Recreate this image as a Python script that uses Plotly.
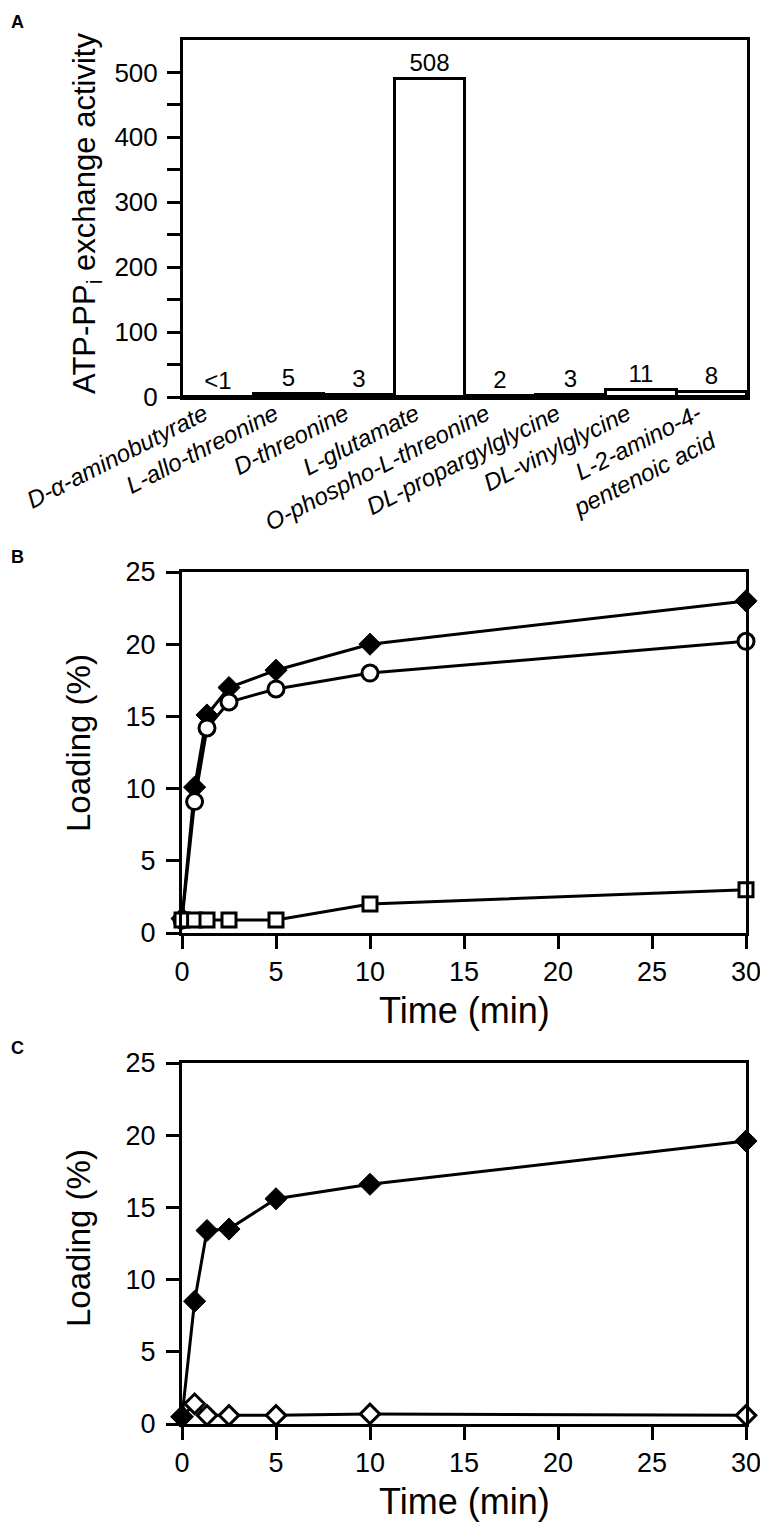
import plotly.graph_objects as go

# ---------------- data ----------------
categories = [
    "<i>D-α-aminobutyrate</i>",
    "<i>L-allo-threonine</i>",
    "<i>D-threonine</i>",
    "<i>L-glutamate</i>",
    "<i>O-phospho-L-threonine</i>",
    "<i>DL-propargylglycine</i>",
    "<i>DL-vinylglycine</i>",
    "<i>L-2-amino-4-<br>pentenoic acid</i>",
]
activity = [0.6, 5, 3, 490, 2, 3, 11, 8]
activity_labels = ["<1", "5", "3", "508", "2", "3", "11", "8"]

time_min = [0, 0.67, 1.33, 2.5, 5, 10, 30]
b_filled_diamond = [1.0, 10.1, 15.1, 17.0, 18.2, 20.0, 23.0]
b_open_circle = [0.9, 9.1, 14.2, 16.0, 16.9, 18.0, 20.2]
b_open_square = [0.9, 0.9, 0.9, 0.9, 0.9, 2.0, 3.0]
c_filled_diamond = [0.5, 8.5, 13.4, 13.5, 15.6, 16.6, 19.6]
c_open_diamond = [0.5, 1.4, 0.6, 0.6, 0.6, 0.7, 0.6]

# The page body has an 8px margin, so the figure is offset by 8px.
OFF = 8
W, H = 768 - OFF, 1527 - OFF
FONT = "Liberation Sans, Arial, sans-serif"


def px_x(x):
    return (x - OFF) / W


def px_y(y):
    return 1 - (y - OFF) / H


fig = go.Figure()

# Panel A bars
fig.add_trace(go.Bar(
    x=categories, y=activity, text=activity_labels,
    textposition="outside", cliponaxis=False,
    textfont=dict(size=24, color="black", family=FONT),
    marker=dict(color="white", line=dict(color="black", width=3)),
    xaxis="x", yaxis="y", showlegend=False,
))

line_style = dict(color="black", width=3)

# Panel B
fig.add_trace(go.Scatter(
    x=time_min, y=b_filled_diamond, mode="lines+markers", cliponaxis=False,
    line=line_style,
    marker=dict(symbol="diamond", size=17, color="black", line=dict(color="black", width=1)),
    xaxis="x2", yaxis="y2", showlegend=False,
))
fig.add_trace(go.Scatter(
    x=time_min, y=b_open_circle, mode="lines+markers", cliponaxis=False,
    line=line_style,
    marker=dict(symbol="circle", size=16, color="white", line=dict(color="black", width=3)),
    xaxis="x2", yaxis="y2", showlegend=False,
))
fig.add_trace(go.Scatter(
    x=time_min, y=b_open_square, mode="lines+markers", cliponaxis=False,
    line=line_style,
    marker=dict(symbol="square", size=14, color="white", line=dict(color="black", width=3)),
    xaxis="x2", yaxis="y2", showlegend=False,
))

# Panel C
fig.add_trace(go.Scatter(
    x=time_min, y=c_open_diamond, mode="lines+markers", cliponaxis=False,
    line=line_style,
    marker=dict(symbol="diamond", size=15, color="white", line=dict(color="black", width=3)),
    xaxis="x3", yaxis="y3", showlegend=False,
))
fig.add_trace(go.Scatter(
    x=time_min, y=c_filled_diamond, mode="lines+markers", cliponaxis=False,
    line=line_style,
    marker=dict(symbol="diamond", size=17, color="black", line=dict(color="black", width=1)),
    xaxis="x3", yaxis="y3", showlegend=False,
))

axis_common = dict(
    showline=True, linecolor="black", linewidth=3, mirror=True,
    showgrid=False, zeroline=False, automargin=False,
    tickfont=dict(size=27, color="black", family=FONT),
)
tick_common = dict(ticks="outside", ticklen=13, tickwidth=3, tickcolor="black")

fig.update_layout(
    template="none",
    width=W, height=H,
    margin=dict(l=0, r=0, t=0, b=0),
    paper_bgcolor="white", plot_bgcolor="white",
    font=dict(family=FONT, color="black"),
    bargap=0,
    xaxis=dict(
        domain=[px_x(183), px_x(747)], anchor="y",
        type="category", ticks="", tickangle=-27,
        ticklabelstandoff=-9, ticklabelshift=-14,
        **{**axis_common, "tickfont": dict(size=24, color="black", family=FONT)},
    ),
    yaxis=dict(
        domain=[px_y(397), px_y(40)], anchor="x",
        range=[0, 550], tickvals=[0, 100, 200, 300, 400, 500],
        minor=dict(tickvals=[50, 150, 250, 350, 450], ticks="outside",
                   ticklen=13, tickwidth=3, tickcolor="black"),
        ticklabelstandoff=4,
        **tick_common,
        **{**axis_common, "tickfont": dict(size=26, color="black", family=FONT)},
    ),
    xaxis2=dict(
        domain=[px_x(182), px_x(746)], anchor="y2",
        range=[0, 30], tickvals=[0, 5, 10, 15, 20, 25, 30],
        **tick_common, **axis_common,
    ),
    yaxis2=dict(
        domain=[px_y(933), px_y(572)], anchor="x2",
        range=[0, 25], tickvals=[0, 5, 10, 15, 20, 25],
        ticklabelstandoff=5,
        **tick_common, **axis_common,
    ),
    xaxis3=dict(
        domain=[px_x(182), px_x(746)], anchor="y3",
        range=[0, 30], tickvals=[0, 5, 10, 15, 20, 25, 30],
        **tick_common, **axis_common,
    ),
    yaxis3=dict(
        domain=[px_y(1424), px_y(1063)], anchor="x3",
        range=[0, 25], tickvals=[0, 5, 10, 15, 20, 25],
        ticklabelstandoff=5,
        **tick_common, **axis_common,
    ),
)

annotations = [
    dict(text="<b>A</b>", x=px_x(9), y=px_y(22), xanchor="left", font=dict(size=18)),
    dict(text="<b>B</b>", x=px_x(9), y=px_y(557), xanchor="left", font=dict(size=18)),
    dict(text="<b>C</b>", x=px_x(9), y=px_y(1048), xanchor="left", font=dict(size=18)),
    dict(text="ATP-PP<sub>i</sub> exchange activity", x=px_x(87), y=px_y(214),
         textangle=-90, font=dict(size=31)),
    dict(text="Loading (%)", x=px_x(78), y=px_y(743), textangle=-90, font=dict(size=33)),
    dict(text="Loading (%)", x=px_x(78), y=px_y(1238), textangle=-90, font=dict(size=33)),
    dict(text="Time (min)", x=px_x(464), y=px_y(1010), font=dict(size=36)),
    dict(text="Time (min)", x=px_x(464), y=px_y(1501), font=dict(size=36)),
]
for a in annotations:
    a.setdefault("xanchor", "center")
    a.update(xref="paper", yref="paper", showarrow=False, yanchor="middle")
    a["font"].update(color="black", family=FONT)
fig.update_layout(annotations=annotations)

fig.write_html("out.html")
